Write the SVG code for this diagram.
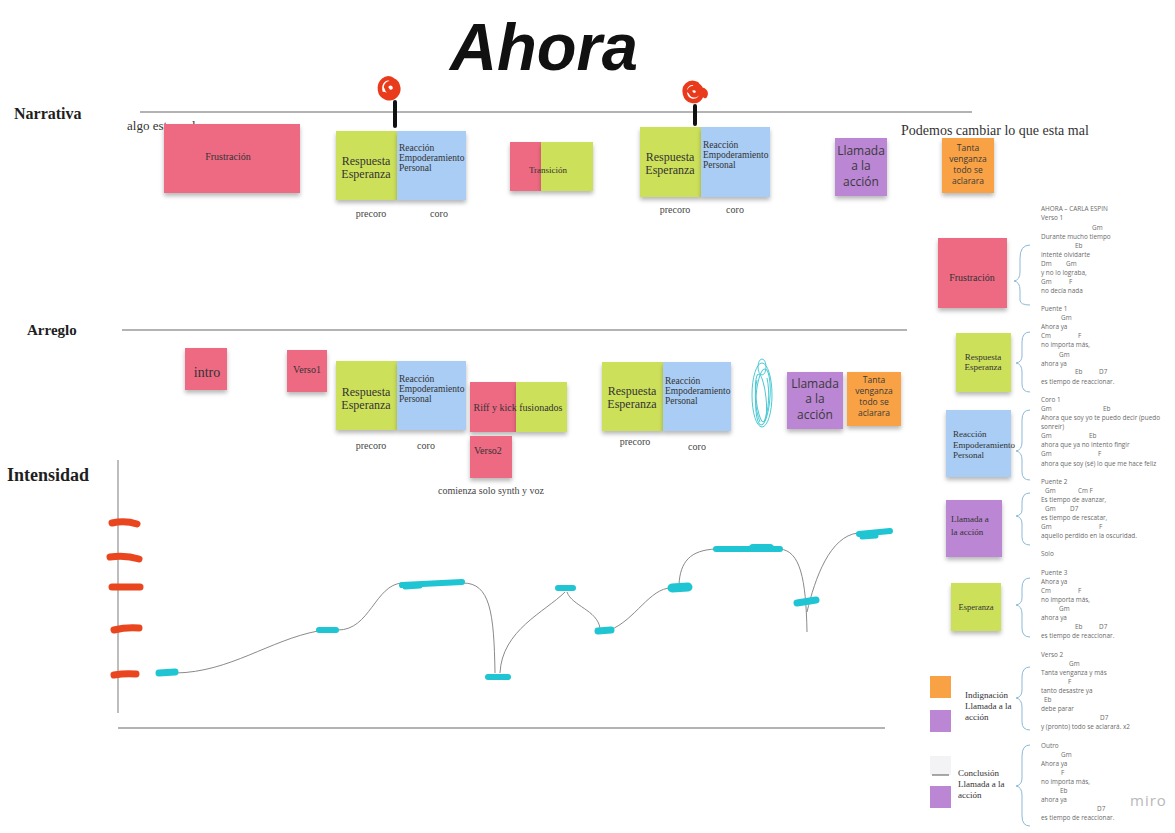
<svg xmlns="http://www.w3.org/2000/svg" width="1175" height="833" viewBox="0 0 1175 833">
<defs>
<filter id="sh" x="-20%" y="-20%" width="140%" height="150%">
<feDropShadow dx="0" dy="3" stdDeviation="2" flood-color="#000" flood-opacity="0.28"/>
</filter>
<style>
.lbl{font-family:"Liberation Serif",serif;font-weight:bold;fill:#1e1e1e}
.nt{font-family:"Liberation Serif",serif;fill:#333}
.sm{font-family:"Liberation Serif",serif;fill:#444;font-size:10px}
.sn{font-family:"Open Sans","Liberation Sans",sans-serif;fill:#3a3a3a}
.ly{font-family:"Open Sans","Liberation Sans",sans-serif;font-size:6.4px;fill:#6a6a6a}
.pink{fill:#ee6b83}
.green{fill:#cde05a}
.blue{fill:#a9cdf4}
.purple{fill:#bb86d4}
.orange{fill:#f8a245}
.rule{stroke:#9a9a9a;stroke-width:1.3;fill:none}
.crv{stroke:#8a8a8a;stroke-width:1;fill:none}
.cy{stroke:#1fc5d3;stroke-linecap:round;fill:none}
.rd{stroke:#e9451f;stroke-width:7;stroke-linecap:round;fill:none}
.brace{stroke:#8cb9d8;stroke-width:1;fill:none}
.pin{stroke:#ea3a1c;stroke-width:4.5;fill:none;stroke-linecap:round;stroke-linejoin:round}
.scr{stroke:#4cc9d4;stroke-width:1;fill:none}
</style>
</defs>
<rect width="1175" height="833" fill="#ffffff"/>

<g id="title">
<text x="450" y="70" font-family="Liberation Sans, sans-serif" font-style="italic" font-weight="bold" font-size="66" textLength="188" lengthAdjust="spacingAndGlyphs" fill="#111">Ahora</text>
</g>

<g id="section-labels">
<text class="lbl" x="14" y="119" font-size="16">Narrativa</text>
<text class="lbl" x="27" y="335" font-size="15">Arreglo</text>
<text class="lbl" x="7" y="481" font-size="18">Intensidad</text>
</g>

<g id="rules">
<line class="rule" x1="140" y1="112" x2="972" y2="112"/>
<line class="rule" x1="122" y1="330" x2="907" y2="330"/>
<line class="rule" x1="118" y1="460" x2="118" y2="713"/>
<line class="rule" x1="118" y1="728" x2="885" y2="728"/>
</g>

<!-- Narrativa row -->
<g id="n-algo"><text class="nt" x="127" y="130" font-size="13">algo esta mal</text></g>
<g id="n-frustracion">
<rect class="pink" x="164" y="124" width="136" height="69" filter="url(#sh)"/>
<text class="nt" x="228" y="160" font-size="10" text-anchor="middle" fill="#4a2530">Frustración</text>
</g>
<g id="n-pin1">
<path class="pin" d="M393,80 c-7,-5 -14,2 -13,10 c1,8 11,11 16,5 c5,-6 1,-15 -5,-15 M386,87 c1,-5 8,-5 9,0 c1,5 -6,7 -8,2 M384,94 c4,2 9,1 12,-3"/>
<line x1="395" y1="102" x2="395" y2="126" stroke="#111" stroke-width="4" stroke-linecap="round"/>
</g>
<g id="n-precoro1">
<rect class="green" x="336" y="131" width="61" height="69" filter="url(#sh)"/>
<text class="nt" x="366" y="165" font-size="12" text-anchor="middle">Respuesta</text>
<text class="nt" x="366" y="178" font-size="12" text-anchor="middle">Esperanza</text>
</g>
<g id="n-coro1">
<rect class="blue" x="397" y="131" width="69" height="69" filter="url(#sh)"/>
<text class="nt" x="399" y="151" font-size="9.5" fill="#2e3d58">Reacción</text>
<text class="nt" x="399" y="161" font-size="9.5" fill="#2e3d58">Empoderamiento</text>
<text class="nt" x="399" y="171" font-size="9.5" fill="#2e3d58">Personal</text>
</g>
<g id="n-lbl1">
<text class="sm" x="371" y="217" text-anchor="middle">precoro</text>
<text class="sm" x="439" y="217" text-anchor="middle">coro</text>
</g>
<g id="n-transicion">
<rect class="pink" x="510" y="142" width="31" height="49" filter="url(#sh)"/>
<rect class="green" x="541" y="142" width="52" height="49" filter="url(#sh)"/>
<text class="nt" x="548" y="173" font-size="9" text-anchor="middle">Transición</text>
</g>
<g id="n-pin2">
<path class="pin" d="M697,84 c-8,-4 -14,3 -12,10 c2,8 11,9 15,4 c4,-5 1,-13 -5,-13 M689,91 c2,-4 8,-4 9,0 c1,4 -5,6 -7,2 M700,90 c4,-1 7,2 5,6"/>
<line x1="695" y1="106" x2="695" y2="124" stroke="#111" stroke-width="4" stroke-linecap="round"/>
</g>
<g id="n-precoro2">
<rect class="green" x="640" y="127" width="61" height="70" filter="url(#sh)"/>
<text class="nt" x="670" y="161" font-size="12" text-anchor="middle">Respuesta</text>
<text class="nt" x="670" y="174" font-size="12" text-anchor="middle">Esperanza</text>
</g>
<g id="n-coro2">
<rect class="blue" x="701" y="127" width="69" height="70" filter="url(#sh)"/>
<text class="nt" x="703" y="148" font-size="9.5" fill="#2e3d58">Reacción</text>
<text class="nt" x="703" y="158" font-size="9.5" fill="#2e3d58">Empoderamiento</text>
<text class="nt" x="703" y="168" font-size="9.5" fill="#2e3d58">Personal</text>
</g>
<g id="n-lbl2">
<text class="sm" x="675" y="213" text-anchor="middle">precoro</text>
<text class="sm" x="735" y="213" text-anchor="middle">coro</text>
</g>
<g id="n-llamada">
<rect class="purple" x="835" y="138" width="52" height="58" filter="url(#sh)"/>
<text class="sn" x="861" y="155" font-size="12" text-anchor="middle">Llamada</text>
<text class="sn" x="861" y="170" font-size="12" text-anchor="middle">a la</text>
<text class="sn" x="861" y="186" font-size="12" text-anchor="middle">acción</text>
</g>
<g id="n-podemos"><text class="nt" x="901" y="135" font-size="14">Podemos cambiar lo que esta mal</text></g>
<g id="n-tanta">
<rect class="orange" x="942" y="138" width="52" height="55" filter="url(#sh)"/>
<text class="sn" x="968" y="151" font-size="8.5" text-anchor="middle" fill="#6a3a10">Tanta</text>
<text class="sn" x="968" y="162" font-size="8.5" text-anchor="middle" fill="#6a3a10">venganza</text>
<text class="sn" x="968" y="173" font-size="8.5" text-anchor="middle" fill="#6a3a10">todo se</text>
<text class="sn" x="968" y="184" font-size="8.5" text-anchor="middle" fill="#6a3a10">aclarara</text>
</g>

<!-- Arreglo row -->
<g id="a-intro">
<rect class="pink" x="185" y="348" width="42" height="42" filter="url(#sh)"/>
<text class="nt" x="207" y="377" font-size="14" text-anchor="middle" fill="#3a2028">intro</text>
</g>
<g id="a-verso1">
<rect class="pink" x="287" y="350" width="40" height="42" filter="url(#sh)"/>
<text class="nt" x="307" y="373" font-size="10" text-anchor="middle" fill="#3a2028">Verso1</text>
</g>
<g id="a-precoro1">
<rect class="green" x="336" y="361" width="61" height="69" filter="url(#sh)"/>
<text class="nt" x="366" y="396" font-size="12" text-anchor="middle">Respuesta</text>
<text class="nt" x="366" y="409" font-size="12" text-anchor="middle">Esperanza</text>
</g>
<g id="a-coro1">
<rect class="blue" x="397" y="361" width="69" height="69" filter="url(#sh)"/>
<text class="nt" x="399" y="382" font-size="9.5" fill="#2e3d58">Reacción</text>
<text class="nt" x="399" y="392" font-size="9.5" fill="#2e3d58">Empoderamiento</text>
<text class="nt" x="399" y="402" font-size="9.5" fill="#2e3d58">Personal</text>
</g>
<g id="a-lbl1">
<text class="sm" x="371" y="449" text-anchor="middle">precoro</text>
<text class="sm" x="426" y="449" text-anchor="middle">coro</text>
</g>
<g id="a-riff">
<rect class="pink" x="470" y="382" width="46" height="50" filter="url(#sh)"/>
<rect class="green" x="516" y="382" width="51" height="50" filter="url(#sh)"/>
<text class="nt" x="518" y="411" font-size="10" text-anchor="middle">Riff y kick fusionados</text>
</g>
<g id="a-verso2">
<rect class="pink" x="470" y="436" width="42" height="42" filter="url(#sh)"/>
<text class="nt" x="474" y="454" font-size="10" fill="#3a2028">Verso2</text>
</g>
<g id="a-comienza"><text class="sm" x="491" y="494" text-anchor="middle">comienza solo synth y voz</text></g>
<g id="a-precoro2">
<rect class="green" x="602" y="362" width="61" height="69" filter="url(#sh)"/>
<text class="nt" x="632" y="395" font-size="12" text-anchor="middle">Respuesta</text>
<text class="nt" x="632" y="408" font-size="12" text-anchor="middle">Esperanza</text>
</g>
<g id="a-coro2">
<rect class="blue" x="663" y="362" width="68" height="69" filter="url(#sh)"/>
<text class="nt" x="665" y="384" font-size="9.5" fill="#2e3d58">Reacción</text>
<text class="nt" x="665" y="394" font-size="9.5" fill="#2e3d58">Empoderamiento</text>
<text class="nt" x="665" y="404" font-size="9.5" fill="#2e3d58">Personal</text>
</g>
<g id="a-lbl2">
<text class="sm" x="635" y="445" text-anchor="middle">precoro</text>
<text class="sm" x="697" y="450" text-anchor="middle">coro</text>
</g>
<g id="a-scribble">
<ellipse class="scr" cx="762" cy="395" rx="10" ry="32"/>
<ellipse class="scr" cx="763" cy="397" rx="7" ry="28" transform="rotate(4 763 397)"/>
<ellipse class="scr" cx="761" cy="398" rx="5" ry="24" transform="rotate(-6 761 398)"/>
<ellipse class="scr" cx="762" cy="367" rx="4" ry="8"/>
<path class="scr" d="M757,380 c-3,12 -2,30 3,42 M767,378 c3,14 2,32 -3,44"/>
</g>
<g id="a-llamada">
<rect class="purple" x="787" y="372" width="56" height="57" filter="url(#sh)"/>
<text class="sn" x="815" y="388" font-size="12" text-anchor="middle">Llamada</text>
<text class="sn" x="815" y="403" font-size="12" text-anchor="middle">a la</text>
<text class="sn" x="815" y="419" font-size="12" text-anchor="middle">acción</text>
</g>
<g id="a-tanta">
<rect class="orange" x="847" y="372" width="54" height="54" filter="url(#sh)"/>
<text class="sn" x="874" y="383" font-size="8.5" text-anchor="middle" fill="#6a3a10">Tanta</text>
<text class="sn" x="874" y="394" font-size="8.5" text-anchor="middle" fill="#6a3a10">venganza</text>
<text class="sn" x="874" y="405" font-size="8.5" text-anchor="middle" fill="#6a3a10">todo se</text>
<text class="sn" x="874" y="416" font-size="8.5" text-anchor="middle" fill="#6a3a10">aclarara</text>
</g>

<!-- Intensidad chart -->
<g id="i-ticks">
<path class="rd" d="M112,523 Q125,520 137,524"/>
<path class="rd" d="M110,557 Q126,555 139,559"/>
<path class="rd" d="M112,587 L140,587"/>
<path class="rd" d="M114,630 Q126,627 139,628"/>
<path class="rd" d="M114,675 Q125,673 136,674"/>
</g>
<g id="connectors">
<path class="crv" d="M176,673 C230,672 270,640 318,631"/>
<path class="crv" d="M338,630 C370,630 375,585 402,583"/>
<path class="crv" d="M463,583 C490,583 494,612 495,673"/>
<path class="crv" d="M500,673 C502,630 545,612 565,592"/>
<path class="crv" d="M567,592 C572,606 597,610 600,628"/>
<path class="crv" d="M610,630 C635,620 650,588 671,588"/>
<path class="crv" d="M679,585 C680,562 690,550 716,549"/>
<path class="crv" d="M780,549 C800,551 806,578 807,632"/>
<path class="crv" d="M807,612 C815,578 830,536 858,533"/>
</g>
<g id="i-points">
<path class="cy" stroke-width="7" d="M159,673 L175,672"/>
<path class="cy" stroke-width="6" d="M319,630 L336,630"/>
<path class="cy" stroke-width="6" d="M402,585 L462,582"/>
<path class="cy" stroke-width="5" d="M405,587 L420,586"/>
<path class="cy" stroke-width="6" d="M488,677 L508,677"/>
<path class="cy" stroke-width="6" d="M558,588 L573,588"/>
<path class="cy" stroke-width="7" d="M598,631 L611,630"/>
<path class="cy" stroke-width="9" d="M672,588 L688,587"/>
<path class="cy" stroke-width="6" d="M716,549 L780,549"/>
<path class="cy" stroke-width="8" d="M753,548 L770,548"/>
<path class="cy" stroke-width="7" d="M797,603 L816,600"/>
<path class="cy" stroke-width="6" d="M859,534 L890,531"/>
<path class="cy" stroke-width="5" d="M862,537 L876,536"/>
</g>

<!-- Right panel stickies -->
<g id="r-frustracion">
<rect class="pink" x="938" y="238" width="69" height="70" filter="url(#sh)"/>
<text class="nt" x="972" y="281" font-size="10" text-anchor="middle" fill="#4a2530">Frustración</text>
</g>
<g id="r-respuesta">
<rect class="green" x="956" y="333" width="55" height="59" filter="url(#sh)"/>
<text class="nt" x="983" y="360" font-size="9" text-anchor="middle">Respuesta</text>
<text class="nt" x="983" y="370" font-size="9" text-anchor="middle">Esperanza</text>
</g>
<g id="r-reaccion">
<rect class="blue" x="946" y="410" width="65" height="67" filter="url(#sh)"/>
<text class="nt" x="953" y="437" font-size="9" fill="#2e3d58">Reacción</text>
<text class="nt" x="953" y="448" font-size="9" fill="#2e3d58">Empoderamiento</text>
<text class="nt" x="953" y="458" font-size="9" fill="#2e3d58">Personal</text>
</g>
<g id="r-llamada">
<rect class="purple" x="946" y="500" width="56" height="57" filter="url(#sh)"/>
<text class="nt" x="951" y="522" font-size="9">Llamada a</text>
<text class="nt" x="951" y="535" font-size="9">la acción</text>
</g>
<g id="r-esperanza">
<rect class="green" x="951" y="583" width="50" height="48" filter="url(#sh)"/>
<text class="nt" x="976" y="610" font-size="8.5" text-anchor="middle">Esperanza</text>
</g>
<g id="r-indignacion">
<rect class="orange" x="930" y="676" width="21" height="22"/>
<rect class="purple" x="930" y="710" width="21" height="22"/>
<text class="nt" x="965" y="698" font-size="9">Indignación</text>
<text class="nt" x="965" y="709" font-size="9">Llamada a la</text>
<text class="nt" x="965" y="720" font-size="9">acción</text>
</g>
<g id="r-conclusion">
<rect x="930" y="756" width="21" height="19" fill="#f3f3f5"/>
<line x1="932" y1="775" x2="949" y2="775" stroke="#555" stroke-width="1"/>
<rect class="purple" x="930" y="786" width="21" height="22"/>
<text class="nt" x="958" y="776" font-size="9">Conclusión</text>
<text class="nt" x="958" y="787" font-size="9">Llamada a la</text>
<text class="nt" x="958" y="798" font-size="9">acción</text>
</g>

<g id="braces">
<path class="brace" d="M1030,245 Q1020,245 1020,258 L1020,272 Q1020,280 1014,281 Q1020,282 1020,290 L1020,300 Q1020,305 1030,305"/>
<path class="brace" d="M1030,332 Q1022,332 1022,342 L1022,356 Q1022,362 1016,363 Q1022,364 1022,372 L1022,384 Q1022,392 1030,392"/>
<path class="brace" d="M1030,410 Q1022,410 1022,420 L1022,442 Q1022,450 1016,451 Q1022,452 1022,460 L1022,472 Q1022,480 1030,480"/>
<path class="brace" d="M1030,493 Q1022,493 1022,502 L1022,510 Q1022,515 1016,516 Q1022,517 1022,524 L1022,537 Q1022,545 1030,545"/>
<path class="brace" d="M1030,578 Q1022,578 1022,588 L1022,598 Q1022,604 1016,605 Q1022,606 1022,614 L1022,628 Q1022,637 1030,637"/>
<path class="brace" d="M1030,667 Q1022,667 1022,677 L1022,690 Q1022,697 1016,698 Q1022,699 1022,707 L1022,722 Q1022,730 1030,730"/>
<path class="brace" d="M1030,745 Q1022,745 1022,756 L1022,778 Q1022,785 1016,786 Q1022,787 1022,795 L1022,816 Q1022,826 1030,826"/>
</g>

<g id="lyrics">
<text class="ly" x="1041" y="211">AHORA – CARLA ESPIN</text>
<text class="ly" x="1041" y="220">Verso 1</text>
<text class="ly" x="1092" y="230">Gm</text>
<text class="ly" x="1041" y="239">Durante mucho tiempo</text>
<text class="ly" x="1075" y="248">Eb</text>
<text class="ly" x="1041" y="257">intenté olvidarte</text>
<text class="ly" x="1041" y="266">Dm</text><text class="ly" x="1066" y="266">Gm</text>
<text class="ly" x="1041" y="275">y no lo lograba,</text>
<text class="ly" x="1041" y="284">Gm</text><text class="ly" x="1069" y="284">F</text>
<text class="ly" x="1041" y="293">no decía nada</text>
<text class="ly" x="1041" y="311">Puente 1</text>
<text class="ly" x="1061" y="320">Gm</text>
<text class="ly" x="1041" y="329">Ahora ya</text>
<text class="ly" x="1041" y="338">Cm</text><text class="ly" x="1078" y="338">F</text>
<text class="ly" x="1041" y="347">no importa más,</text>
<text class="ly" x="1059" y="357">Gm</text>
<text class="ly" x="1041" y="366">ahora  ya</text>
<text class="ly" x="1075" y="374">Eb</text><text class="ly" x="1099" y="374">D7</text>
<text class="ly" x="1041" y="384">es tiempo de reaccionar.</text>
<text class="ly" x="1041" y="402">Coro 1</text>
<text class="ly" x="1041" y="411">Gm</text><text class="ly" x="1103" y="411">Eb</text>
<text class="ly" x="1041" y="420">Ahora que soy yo te puedo decir (puedo</text>
<text class="ly" x="1041" y="429">sonreír)</text>
<text class="ly" x="1041" y="438">Gm</text><text class="ly" x="1089" y="438">Eb</text>
<text class="ly" x="1041" y="447">ahora que ya no intento fingir</text>
<text class="ly" x="1041" y="456">Gm</text><text class="ly" x="1098" y="456">F</text>
<text class="ly" x="1041" y="466">ahora que soy (sé) lo que me hace feliz</text>
<text class="ly" x="1041" y="484">Puente 2</text>
<text class="ly" x="1045" y="493">Gm</text><text class="ly" x="1078" y="493">Cm  F</text>
<text class="ly" x="1041" y="502">Es tiempo de avanzar,</text>
<text class="ly" x="1045" y="511">Gm</text><text class="ly" x="1070" y="511">D7</text>
<text class="ly" x="1041" y="520">es tiempo de rescatar,</text>
<text class="ly" x="1041" y="529">Gm</text><text class="ly" x="1099" y="529">F</text>
<text class="ly" x="1041" y="538">aquello perdido en la oscuridad.</text>
<text class="ly" x="1041" y="556">Solo</text>
<text class="ly" x="1041" y="575">Puente 3</text>
<text class="ly" x="1041" y="584">Ahora ya</text>
<text class="ly" x="1041" y="593">Cm</text><text class="ly" x="1078" y="593">F</text>
<text class="ly" x="1041" y="602">no importa más,</text>
<text class="ly" x="1059" y="611">Gm</text>
<text class="ly" x="1041" y="620">ahora  ya</text>
<text class="ly" x="1075" y="629">Eb</text><text class="ly" x="1099" y="629">D7</text>
<text class="ly" x="1041" y="638">es tiempo de reaccionar.</text>
<text class="ly" x="1041" y="657">Verso 2</text>
<text class="ly" x="1069" y="666">Gm</text>
<text class="ly" x="1041" y="675">Tanta venganza y más</text>
<text class="ly" x="1068" y="684">F</text>
<text class="ly" x="1041" y="693">tanto desastre ya</text>
<text class="ly" x="1044" y="702">Eb</text>
<text class="ly" x="1041" y="711">debe parar</text>
<text class="ly" x="1100" y="720">D7</text>
<text class="ly" x="1041" y="729">y (pronto)  todo se aclarará. x2</text>
<text class="ly" x="1041" y="748">Outro</text>
<text class="ly" x="1061" y="757">Gm</text>
<text class="ly" x="1041" y="766">Ahora ya</text>
<text class="ly" x="1061" y="775">F</text>
<text class="ly" x="1041" y="784">no importa más,</text>
<text class="ly" x="1060" y="793">Eb</text>
<text class="ly" x="1041" y="802">ahora  ya</text>
<text class="ly" x="1097" y="811">D7</text>
<text class="ly" x="1041" y="820">es tiempo de reaccionar.</text>
</g>

<g id="watermark"><text x="1130" y="806" font-family="Open Sans, Liberation Sans, sans-serif" font-size="15" fill="#b8b8b8" letter-spacing="1">miro</text></g>
</svg>
